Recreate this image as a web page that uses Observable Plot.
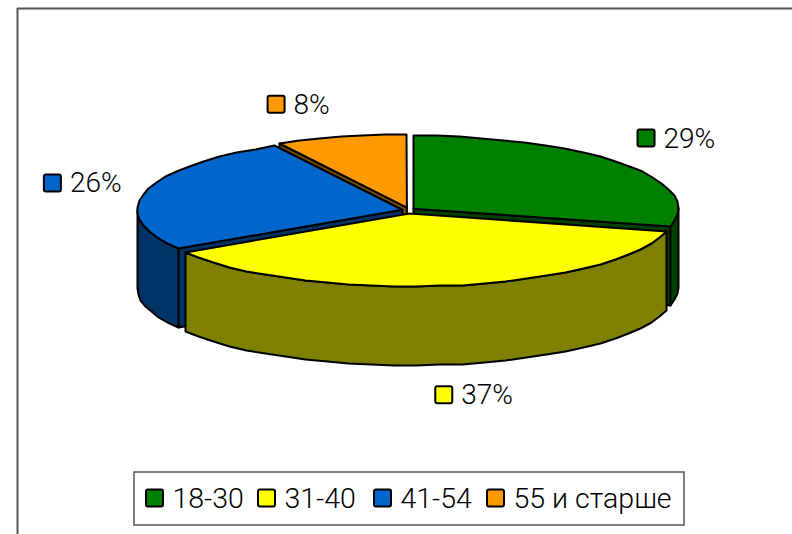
<!DOCTYPE html>
<html>
<head>
<meta charset="utf-8">
<style>
html,body{margin:0;padding:0;background:#fff;overflow:hidden}
svg{display:block}
</style>
<script src="https://cdn.jsdelivr.net/npm/d3@7"></script>
<script src="https://cdn.jsdelivr.net/npm/@observablehq/plot@0.6"></script>
</head>
<body>
<div id="chart"></div>
<script>
// --- data ---
const categories = ["18-30", "31-40", "41-54", "55 и старше"];
const shares = [29, 37, 26, 8];
const topColors = ["#008000", "#FFFF00", "#0066CC", "#FF9900"];
const sideColors = ["#004000", "#808000", "#003366", "#7F4C00"];

// --- pie layout (pixel-space constants) ---
const W = 792, H = 534;
const cx = 408, cy = 210, rx = 265, ry = 73, depth = 79;
const explodeX = 6.3, explodeY = 3, stepDeg = 5;
const labelRx = 331, labelRy = 105;
const labelShiftX = [6.5, 14, -5, -27.6];
const labelShiftY = [-7.6, 3, -1, -4];

const rad = d => d * Math.PI / 180;
let acc = 0;
const slices = shares.map((v, i) => {
  const a0 = acc / 100 * 360; acc += v;
  const a1 = acc / 100 * 360, mid = (a0 + a1) / 2;
  return {i, a0, a1, mid,
    ox: cx + explodeX * Math.sin(rad(mid)),
    oy: cy - explodeY * Math.cos(rad(mid))};
});
const rim = (s, a, dz = 0) => ({
  x: Math.round(s.ox + rx * Math.sin(rad(a))),
  y: Math.round(s.oy - ry * Math.cos(rad(a)) + dz)
});
function arcAngles(a0, a1) {
  const pts = [];
  const n = Math.max(1, Math.ceil((a1 - a0) / stepDeg));
  for (let k = 0; k <= n; k++) pts.push(a0 + (a1 - a0) * k / n);
  return pts;
}
const polys = [];
let pid = 0;
function addPoly(pts, fill) {
  const id = pid++;
  [...pts, pts[0]].forEach(p => polys.push({x: p.x, y: p.y, id, fill}));
}
function outerSide(s, from, to) {
  const a = Math.max(s.a0, from), b = Math.min(s.a1, to);
  if (b <= a) return;
  const as = arcAngles(a, b);
  addPoly([...as.map(t => rim(s, t)), ...as.slice().reverse().map(t => rim(s, t, depth))], sideColors[s.i]);
}
function radialWall(s, angle) {
  const e = rim(s, angle);
  addPoly([{x: s.ox, y: s.oy}, e, {x: e.x, y: e.y + depth}, {x: s.ox, y: s.oy + depth}], sideColors[s.i]);
}
function topFace(s) {
  addPoly([{x: s.ox, y: s.oy}, ...arcAngles(s.a0, s.a1).map(t => rim(s, t))], topColors[s.i]);
}
// back to front
const [greenSlice, yellowSlice, blueSlice, orangeSlice] = slices;
radialWall(orangeSlice, orangeSlice.a0); topFace(orangeSlice);
radialWall(greenSlice, greenSlice.a1); outerSide(greenSlice, 90, 270); topFace(greenSlice);
radialWall(blueSlice, blueSlice.a0); outerSide(blueSlice, 90, 270); topFace(blueSlice);
outerSide(yellowSlice, 90, 270); topFace(yellowSlice);

// percent labels
const labelKeySize = 17;
const labels = slices.map(s => {
  const front = Math.cos(rad(s.mid)) < 0;
  const text = shares[s.i] + "%";
  const w = text.length === 3 ? 78 : 62;
  const mx = cx + labelRx * Math.sin(rad(s.mid)) + labelShiftX[s.i];
  const my = cy - (labelRy + (front ? depth : 0)) * Math.cos(rad(s.mid)) + labelShiftY[s.i];
  return {text, fill: topColors[s.i], kx: mx - w / 2 + 0.5, ky: my - labelKeySize / 2, tx: mx - w / 2 + 26, y: my};
});

// legend
const legendBox = {x1: 134, x2: 684, y1: 472, y2: 525};
const legendKeyX = [146, 258, 374, 487];
const legendKeySize = 17;
const legendY = 498;
const legend = categories.map((c, i) => ({
  text: c, fill: topColors[i], kx: legendKeyX[i], tx: legendKeyX[i] + 26, y: legendY
}));

const font = "Roboto, 'Liberation Sans', Arial, sans-serif";
const chart = Plot.plot({
  width: W, height: H,
  margin: 0,
  x: {domain: [0, W], range: [0, W], axis: null},
  y: {domain: [0, H], range: [0, H], axis: null},
  color: {type: "identity"},
  style: {background: "#fff", fontFamily: font},
  marks: [
    Plot.ruleX([17], {y1: 8, y2: H, stroke: "#555", strokeWidth: 2}),
    Plot.ruleY([8], {x1: 17, x2: W, stroke: "#555", strokeWidth: 2}),
    Plot.line(polys, {x: "x", y: "y", z: "id", fill: "fill", stroke: "#000", strokeWidth: 2, strokeLinejoin: "round"}),
    Plot.rect(labels, {x1: "kx", x2: d => d.kx + labelKeySize, y1: "ky", y2: d => d.ky + labelKeySize, fill: "fill", stroke: "#000", strokeWidth: 2, rx: 2}),
    Plot.text(labels, {x: "tx", y: "y", text: "text", textAnchor: "start", lineAnchor: "middle", fontSize: 28, fontWeight: 300, fill: "#000"}),
    Plot.rect([legendBox], {x1: "x1", x2: "x2", y1: "y1", y2: "y2", fill: "#fff", stroke: "#555", strokeWidth: 1.5}),
    Plot.rect(legend, {x1: "kx", x2: d => d.kx + legendKeySize, y1: d => d.y - legendKeySize / 2, y2: d => d.y + legendKeySize / 2, fill: "fill", stroke: "#000", strokeWidth: 2, rx: 2}),
    Plot.text(legend, {x: "tx", y: "y", text: "text", textAnchor: "start", lineAnchor: "middle", fontSize: 28.5, fontWeight: 300, fill: "#000"})
  ]
});
document.getElementById("chart").appendChild(chart);
</script>
</body>
</html>
